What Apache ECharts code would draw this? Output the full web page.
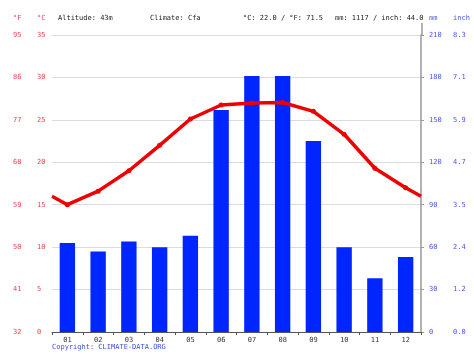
<!DOCTYPE html>
<html><head><meta charset="utf-8">
<script src="https://cdn.jsdelivr.net/npm/echarts@6/dist/echarts.min.js"></script>
<style>html,body{margin:0;padding:0;background:#fff}#c{width:474px;height:355px}</style>
</head><body><div id="c"></div>
<script>
const months = ['01','02','03','04','05','06','07','08','09','10','11','12'];
const precipMm = [63, 57, 64, 60, 68, 157, 181, 181, 135, 60, 38, 53];
const tempC = [15.0, 16.6, 19.0, 22.0, 25.1, 26.75, 27.0, 27.05, 26.0, 23.3, 19.3, 17.0];
const edgeTempC = 16.0;
const fTicks = ['32','41','50','59','68','77','86','95'];
const inchTicks = ['0.0','1.2','2.4','3.5','4.7','5.9','7.1','8.3'];

const mono = 'DejaVu Sans Mono';
const red = '#e8464e';
const blue = '#4a55e6';

const lineData = [{value:[0.5, edgeTempC], symbol:'none'}]
  .concat(tempC.map((v,i)=>[i+1, v]))
  .concat([{value:[12.5, edgeTempC], symbol:'none'}]);

const chart = echarts.init(document.getElementById('c'), null, {renderer:'canvas'});
chart.setOption({
  animation:false,
  grid:{left:52, right:53, top:35, bottom:23, containLabel:false},
  xAxis:[
    {type:'category', data:months, boundaryGap:true,
     axisLine:{lineStyle:{color:'#555', width:1}},
     axisTick:{show:true, length:3, lineStyle:{color:'#555'}},
     axisLabel:{color:'#333', fontFamily:mono, fontSize:7, margin:5},
     splitLine:{show:false}},
    {type:'value', min:0.5, max:12.5, show:false}
  ],
  yAxis:[
    {type:'value', min:0, max:35, interval:5, position:'left',
     axisLine:{show:false}, axisTick:{show:false},
     axisLabel:{color:red, fontFamily:mono, fontSize:7, align:'left', margin:15},
     splitLine:{lineStyle:{color:'#dcdcdc', width:1}}},
    {type:'value', min:0, max:35, interval:5, position:'left',
     axisLine:{show:false}, axisTick:{show:false},
     axisLabel:{color:red, fontFamily:mono, fontSize:7, align:'left', margin:39,
       formatter:(v)=>fTicks[Math.round(v/5)]},
     splitLine:{show:false}},
    {type:'value', min:0, max:210, interval:30, position:'right',
     axisLine:{show:true, lineStyle:{color:'#999', width:1.5}},
     axisTick:{show:true, length:3, lineStyle:{color:'#999'}},
     axisLabel:{color:blue, fontFamily:mono, fontSize:7, align:'left', margin:8},
     splitLine:{show:false}},
    {type:'value', min:0, max:210, interval:30, position:'right',
     axisLine:{show:false}, axisTick:{show:false},
     axisLabel:{color:blue, fontFamily:mono, fontSize:7, align:'left', margin:32,
       formatter:(v)=>inchTicks[Math.round(v/30)]},
     splitLine:{show:false}}
  ],
  series:[
    {type:'bar', xAxisIndex:0, yAxisIndex:2, data:precipMm, barWidth:'50%',
     itemStyle:{color:'#0026ff'}},
    {type:'line', xAxisIndex:1, yAxisIndex:0, data:lineData,
     symbol:'circle', symbolSize:5, lineStyle:{color:'#ee0000', width:3.5},
     itemStyle:{color:'#ee0000'}, z:5}
  ],
  graphic:[
    {type:'text', left:13, top:15, style:{text:'°F', fill:red, font:'7px '+mono}},
    {type:'text', left:37, top:15, style:{text:'°C', fill:red, font:'7px '+mono}},
    {type:'text', left:58, top:15, style:{text:'Altitude: 43m', fill:'#222', font:'7px '+mono}},
    {type:'text', left:150, top:15, style:{text:'Climate: Cfa', fill:'#222', font:'7px '+mono}},
    {type:'text', left:243, top:15, style:{text:'°C: 22.0 / °F: 71.5', fill:'#222', font:'7px '+mono}},
    {type:'text', left:335, top:15, style:{text:'mm: 1117 / inch: 44.0', fill:'#222', font:'7px '+mono}},
    {type:'text', left:429, top:15, style:{text:'mm', fill:blue, font:'7px '+mono}},
    {type:'text', left:453, top:15, style:{text:'inch', fill:blue, font:'7px '+mono}},
    {type:'line', shape:{x1:422, y1:23, x2:422, y2:35}, style:{stroke:'#999', lineWidth:1.5}},
    {type:'text', left:52, top:344, style:{text:'Copyright: CLIMATE-DATA.ORG', fill:'#3a4fe0', font:'7px '+mono}}
  ]
});
</script></body></html>
